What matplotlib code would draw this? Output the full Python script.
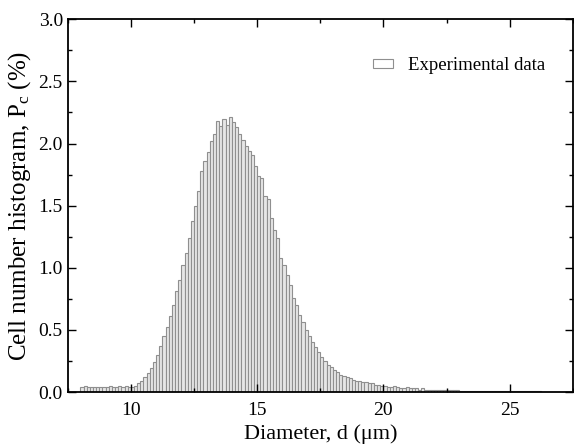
import numpy as np
import matplotlib
matplotlib.use("Agg")
import matplotlib.pyplot as plt
from matplotlib.ticker import MultipleLocator, FormatStrFormatter

plt.rcParams['font.family'] = ['Liberation Serif', 'DejaVu Serif']
plt.rcParams['mathtext.fontset'] = 'custom'
plt.rcParams['mathtext.rm'] = 'Liberation Serif'
plt.rcParams['mathtext.it'] = 'Liberation Serif:italic'

# histogram: bins of 0.125 um starting at 8.0 um, values in %
bin_start = 8.0
bin_width = 0.125
counts = [
    0.04, 0.05, 0.04, 0.04, 0.04, 0.04, 0.04, 0.04,   # 8-9
    0.04, 0.05, 0.04, 0.04, 0.05, 0.04, 0.05, 0.04,   # 9-10
    0.04, 0.05, 0.07, 0.09, 0.12, 0.15, 0.19, 0.24,   # 10-11
    0.30, 0.37, 0.45, 0.52, 0.61, 0.70, 0.81, 0.90,   # 11-12
    1.02, 1.12, 1.24, 1.38, 1.50, 1.62, 1.78, 1.86,   # 12-13
    1.93, 2.02, 2.08, 2.18, 2.14, 2.20, 2.15, 2.21,   # 13-14
    2.17, 2.13, 2.08, 2.03, 1.98, 1.94, 1.91, 1.82,   # 14-15
    1.74, 1.72, 1.58, 1.55, 1.40, 1.30, 1.24, 1.08,   # 15-16
    1.02, 0.94, 0.86, 0.76, 0.70, 0.62, 0.56, 0.50,   # 16-17
    0.45, 0.40, 0.36, 0.32, 0.28, 0.25, 0.22, 0.20,   # 17-18
    0.18, 0.16, 0.14, 0.13, 0.12, 0.11, 0.10, 0.09,   # 18-19
    0.09, 0.08, 0.08, 0.07, 0.07, 0.06, 0.06, 0.05,   # 19-20
    0.05, 0.04, 0.04, 0.05, 0.04, 0.03, 0.03, 0.04,   # 20-21
    0.03, 0.03, 0.03, 0.02, 0.03, 0.02, 0.02, 0.02,   # 21-22
    0.02, 0.02, 0.02, 0.02, 0.015, 0.015, 0.015, 0.015,  # 22-23
    0.012, 0.012, 0.01, 0.01, 0.012, 0.01, 0.01, 0.01,   # 23-24
    0.01, 0.01, 0.008, 0.008, 0.008, 0.008, 0.008, 0.008,  # 24-25
    0.006, 0.006, 0.006, 0.006, 0.005, 0.005, 0.005, 0.005,  # 25-26
    0.005, 0.005, 0.004, 0.004, 0.004, 0.004, 0.004, 0.004,  # 26-27
]
edges = bin_start + bin_width * np.arange(len(counts))

fig = plt.figure(figsize=(5.74, 4.48), dpi=100)
ax = fig.add_axes([0.118, 0.125, 0.880, 0.832])

ax.bar(edges, counts, width=bin_width, align='edge', facecolor='#e6e6e6',
       edgecolor='#8f8f8f', linewidth=0.8, label='Experimental data')

ax.set_xlim(7.5, 27.5)
ax.set_ylim(0, 3.0)
ax.xaxis.set_major_locator(MultipleLocator(5))
ax.xaxis.set_minor_locator(MultipleLocator(2.5))
ax.yaxis.set_major_locator(MultipleLocator(0.5))
ax.yaxis.set_minor_locator(MultipleLocator(0.25))
ax.tick_params(which='both', direction='in', top=True, right=True, labelsize=14)
ax.tick_params(which='major', length=6, width=1)
ax.tick_params(which='minor', length=3, width=1)
ax.tick_params(axis='x', pad=7)
ax.yaxis.set_major_formatter(FormatStrFormatter('%.1f'))
for s in ax.spines.values():
    s.set_linewidth(1.3)

ax.set_xlabel('Diameter, d (\u03bcm)', fontsize=16, labelpad=4)
ax.set_ylabel('Cell number histogram, P$_\\mathrm{c}$ (%)', fontsize=18, labelpad=4)

leg = ax.legend(loc='upper right', frameon=False, fontsize=13.5, handlelength=1.05,
                handleheight=0.4, handletextpad=0.8, bbox_to_anchor=(0.978, 0.944))
leg.get_patches()[0].set_facecolor('white')

fig.savefig('out.png', dpi=100)
